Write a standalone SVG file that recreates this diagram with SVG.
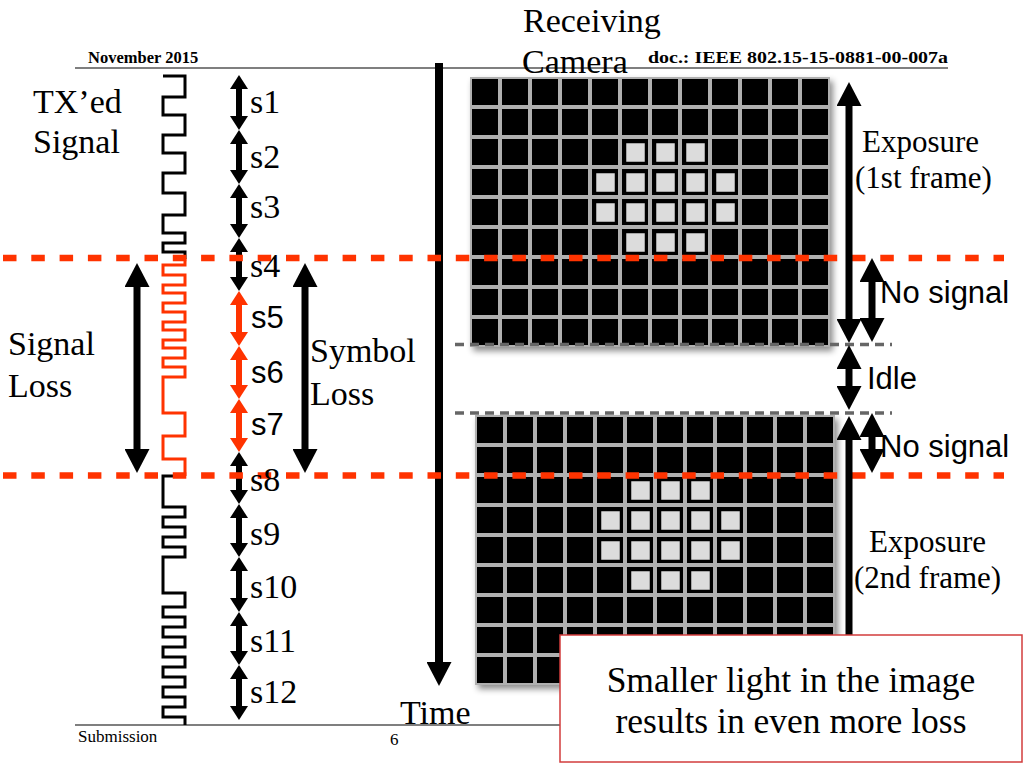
<svg xmlns="http://www.w3.org/2000/svg" width="1024" height="768" viewBox="0 0 1024 768">
<style>
.serif{font-family:"Liberation Serif","Times New Roman",serif;fill:#000}
.sans{font-family:"Liberation Sans",Arial,sans-serif;fill:#000}
.hdr{font-family:"Liberation Serif","Times New Roman",serif;font-weight:bold;font-size:16.5px}
.lbl{font-size:34px}
.big-t{font-size:34px}
.exp{font-size:31px}
.ns{font-size:31px}
.wave{fill:none;stroke-width:3;stroke-linejoin:miter}
.sym{stroke:#000;stroke-width:6;marker-start:url(#hs);marker-end:url(#hs)}
.symr{stroke:#ff3300;stroke-width:6;marker-start:url(#hsr);marker-end:url(#hsr)}
.big{stroke:#000;stroke-width:7;marker-start:url(#hb);marker-end:url(#hb)}
.rdash{stroke:#ff3300;stroke-width:6.5;stroke-dasharray:13.5 14.8;fill:none}
.gdash{stroke:#666;stroke-width:3.5;stroke-dasharray:9 6;fill:none}
.cell{fill:#000}
.lit{fill:#dcdcdc;stroke:#000;stroke-width:2.5}
</style>
<defs>
<marker id="hs" markerUnits="userSpaceOnUse" viewBox="0 0 14 18" refX="1" refY="9" markerWidth="14" markerHeight="18" orient="auto-start-reverse"><path d="M0,0 L14,9 L0,18 z" fill="#000"/></marker>
<marker id="hsr" markerUnits="userSpaceOnUse" viewBox="0 0 14 18" refX="1" refY="9" markerWidth="14" markerHeight="18" orient="auto-start-reverse"><path d="M0,0 L14,9 L0,18 z" fill="#ff3300"/></marker>
<marker id="hb" markerUnits="userSpaceOnUse" viewBox="0 0 24 25" refX="1" refY="12.5" markerWidth="24" markerHeight="25" orient="auto-start-reverse"><path d="M0,0 L24,12.5 L0,25 z" fill="#000"/></marker>
<filter id="sh" x="-5%" y="-5%" width="115%" height="115%"><feDropShadow dx="3" dy="4" stdDeviation="3" flood-color="#000" flood-opacity="0.45"/></filter>
<g id="row12">
<rect class="cell" x="2" y="2" width="26" height="26"/><rect class="cell" x="32" y="2" width="26" height="26"/><rect class="cell" x="62" y="2" width="26" height="26"/><rect class="cell" x="92" y="2" width="26" height="26"/><rect class="cell" x="122" y="2" width="26" height="26"/><rect class="cell" x="152" y="2" width="26" height="26"/><rect class="cell" x="182" y="2" width="26" height="26"/><rect class="cell" x="212" y="2" width="26" height="26"/><rect class="cell" x="242" y="2" width="26" height="26"/><rect class="cell" x="272" y="2" width="26" height="26"/><rect class="cell" x="302" y="2" width="26" height="26"/><rect class="cell" x="332" y="2" width="26" height="26"/>
</g>
<g id="grid">
<rect x="0" y="0" width="360" height="270" fill="#b0b0b0" filter="url(#sh)"/>
<use href="#row12" y="0"/><use href="#row12" y="30"/><use href="#row12" y="60"/><use href="#row12" y="90"/><use href="#row12" y="120"/><use href="#row12" y="150"/><use href="#row12" y="180"/><use href="#row12" y="210"/><use href="#row12" y="240"/>
<rect class="lit" x="155" y="65" width="21" height="21"/><rect class="lit" x="185" y="65" width="21" height="21"/><rect class="lit" x="215" y="65" width="21" height="21"/>
<rect class="lit" x="125" y="95" width="21" height="21"/><rect class="lit" x="155" y="95" width="21" height="21"/><rect class="lit" x="185" y="95" width="21" height="21"/><rect class="lit" x="215" y="95" width="21" height="21"/><rect class="lit" x="245" y="95" width="21" height="21"/>
<rect class="lit" x="125" y="125" width="21" height="21"/><rect class="lit" x="155" y="125" width="21" height="21"/><rect class="lit" x="185" y="125" width="21" height="21"/><rect class="lit" x="215" y="125" width="21" height="21"/><rect class="lit" x="245" y="125" width="21" height="21"/>
<rect class="lit" x="155" y="155" width="21" height="21"/><rect class="lit" x="185" y="155" width="21" height="21"/><rect class="lit" x="215" y="155" width="21" height="21"/>
</g>
</defs>
<rect width="1024" height="768" fill="#fff"/>

<g id="header">
<line x1="75" y1="68" x2="948" y2="68" stroke="#000" stroke-width="1.2"/>
<text class="hdr" x="88" y="63">November 2015</text>
<text class="hdr" x="648" y="63" textLength="300" lengthAdjust="spacingAndGlyphs">doc.: IEEE 802.15-15-0881-00-007a</text>
</g>
<g id="footer">
<line x1="75" y1="725" x2="560" y2="725" stroke="#000" stroke-width="1.2"/>
<text class="serif" x="78" y="742" font-size="17">Submission</text>
<text class="serif" x="390" y="745" font-size="17">6</text>
</g>

<g id="frame1"><use href="#grid" x="470" y="77"/></g>
<g id="frame2"><use href="#grid" x="475" y="415"/></g>

<g id="tx-signal">
<path class="wave" stroke="#000" d="M163,76 H185 V97 H163 V115 H185 V135 H163 V153 H185 V173 H163 V193 H185 V215 H163 V233 H185 V243 H163 V252 H185 V259"/>
<path class="wave" stroke="#ff3300" d="M185,258 V265 H163 V275 H185 V285 H163 V293 H185 V303 H163 V312 H185 V322 H163 V330 H185 V340 H163 V348 H185 V358 H163 V367 H185 V377 H163 V413 H185 V436 H163 V459 H185 V476"/>
<path class="wave" stroke="#000" d="M185,476 H163 V507 H185 V517 H163 V527 H185 V537 H163 V547 H185 V557 H163 V593 H185 V607 H163 V617 H185 V627 H163 V637 H185 V647 H163 V657 H185 V667 H163 V677 H185 V687 H163 V697 H185 V707 H163 V717 H185 V725"/>
</g>

<g id="connectors">
<line class="sym" x1="239" y1="88" x2="239" y2="117"/>
<line class="sym" x1="239" y1="143" x2="239" y2="171"/>
<line class="sym" x1="239" y1="197" x2="239" y2="225"/>
<line class="sym" x1="239" y1="251" x2="239" y2="278"/>
<line class="symr" x1="239" y1="304" x2="239" y2="333"/>
<line class="symr" x1="239" y1="359" x2="239" y2="386"/>
<line class="symr" x1="239" y1="412" x2="239" y2="439"/>
<line class="sym" x1="239" y1="465" x2="239" y2="491"/>
<line class="sym" x1="239" y1="517" x2="239" y2="544"/>
<line class="sym" x1="239" y1="570" x2="239" y2="599"/>
<line class="sym" x1="239" y1="625" x2="239" y2="652"/>
<line class="sym" x1="239" y1="678" x2="239" y2="707"/>
<line class="big" x1="137" y1="286" x2="137" y2="450"/>
<line class="big" x1="305" y1="286" x2="305" y2="450"/>
<line x1="439" y1="63" x2="439" y2="663" stroke="#000" stroke-width="8" marker-end="url(#hb)"/>
</g>

<g id="cut-lines">
<line class="rdash" x1="3" y1="258" x2="1004" y2="258"/>
<line class="rdash" x1="3" y1="475.5" x2="1004" y2="475.5"/>
<line class="gdash" x1="455" y1="344.5" x2="892" y2="344.5"/>
<line class="gdash" x1="455" y1="413" x2="892" y2="413"/>
</g>

<g id="timing-arrows">
<line class="big" x1="849" y1="105" x2="849" y2="320"/>
<line class="big" x1="872" y1="281" x2="872" y2="319"/>
<line class="big" x1="849" y1="368" x2="849" y2="387"/>
<line class="big" x1="849" y1="439" x2="849" y2="690"/>
<line class="big" x1="872" y1="436" x2="872" y2="450"/>
</g>

<g id="labels">
<text class="serif big-t" x="33" y="113">TX’ed</text>
<text class="serif big-t" x="33" y="153">Signal</text>
<text class="serif big-t" x="8" y="355">Signal</text>
<text class="serif big-t" x="8" y="397">Loss</text>
<text class="serif big-t" x="310" y="362">Symbol</text>
<text class="serif big-t" x="310" y="405">Loss</text>
<text class="serif lbl" x="250" y="113">s1</text>
<text class="serif lbl" x="250" y="168">s2</text>
<text class="serif lbl" x="250" y="218">s3</text>
<text class="serif lbl" x="250" y="277">s4</text>
<text class="sans" x="251" y="328" font-size="31">s5</text>
<text class="sans" x="251" y="383" font-size="31">s6</text>
<text class="sans" x="251" y="435" font-size="31">s7</text>
<text class="serif lbl" x="250" y="491">s8</text>
<text class="serif lbl" x="250" y="545">s9</text>
<text class="serif lbl" x="250" y="598">s10</text>
<text class="serif lbl" x="250" y="652">s11</text>
<text class="serif lbl" x="250" y="703">s12</text>
<text class="serif big-t" x="400" y="724">Time</text>
<text class="serif big-t" x="523" y="32">Receiving</text>
<text class="serif big-t" x="522" y="73">Camera</text>
<text class="serif exp" x="862" y="152">Exposure</text>
<text class="serif exp" x="855" y="188">(1st frame)</text>
<text class="sans ns" x="880" y="303">No signal</text>
<text class="sans ns" x="867" y="389">Idle</text>
<text class="sans ns" x="880" y="457">No signal</text>
<text class="serif exp" x="869" y="552">Exposure</text>
<text class="serif exp" x="854" y="588">(2nd frame)</text>
</g>

<g id="note">
<rect x="560" y="635" width="462" height="127" fill="#fff" stroke="#d23c3c" stroke-width="1.5"/>
<text class="serif" x="791" y="692" font-size="35.5" text-anchor="middle">Smaller light in the image</text>
<text class="serif" x="791" y="733" font-size="35.5" text-anchor="middle">results in even more loss</text>
</g>
</svg>
